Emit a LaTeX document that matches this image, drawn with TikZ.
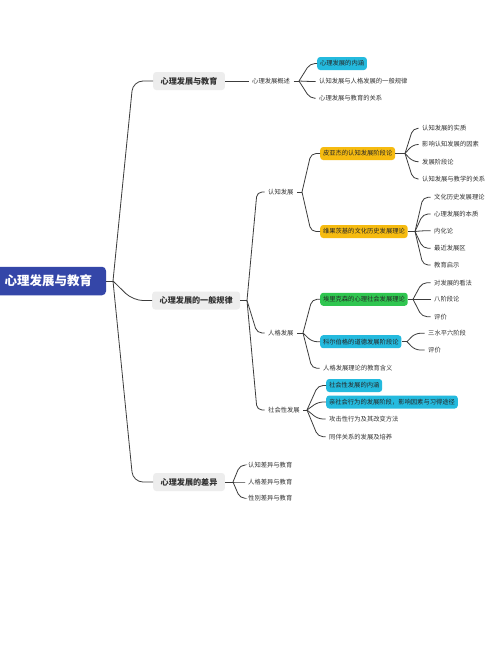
\documentclass[tikz,border=0pt]{standalone}
\usepackage{fontspec}
\setmainfont{Noto Sans CJK SC}
\definecolor{rootblue}{RGB}{52,70,168}
\definecolor{lgray}{RGB}{237,237,237}
\definecolor{cyanb}{RGB}{36,186,222}
\definecolor{orangeb}{RGB}{246,187,16}
\definecolor{greenb}{RGB}{48,198,80}
\definecolor{txt}{RGB}{51,51,51}
\definecolor{linec}{RGB}{60,60,60}
\tikzset{
  conn/.style={draw=linec, line width=0.8pt, rounded corners=5pt},
  rootbox/.style={fill=rootblue, text=white, font=\fontsize{12.5}{14}\selectfont\bfseries,
    minimum width=115pt, minimum height=28.5pt, rounded corners=4pt, inner sep=0pt},
  lone/.style={anchor=west, fill=lgray, text=txt, font=\fontsize{8.1}{9.5}\selectfont\bfseries,
    inner xsep=7.5pt, inner ysep=0pt, minimum height=18pt, rounded corners=3pt},
  leaf/.style={anchor=west, text=txt, font=\fontsize{6.3}{7.5}\selectfont, inner xsep=3.5pt, inner ysep=1pt},
  colbox/.style={anchor=west, text=black!85, font=\fontsize{6.3}{7.5}\selectfont,
    inner xsep=2.8pt, inner ysep=0pt, minimum height=13pt, rounded corners=3pt},
  cbox/.style={colbox, fill=cyanb},
  obox/.style={colbox, fill=orangeb},
  gbox/.style={colbox, fill=greenb}
}
\newcommand\fan[3]{\foreach \c in {#3} {\draw[conn] (#1) -- (#2 |- \c.west) -- (\c.west);}}
\begin{document}
\begin{tikzpicture}[x=1pt,y=-1pt]
\useasboundingbox (0,0) rectangle (500,654);
\fill[white] (0,0) rectangle (500,654);

% root
\node[rootbox] (root) at (48.5,281) {心理发展与教育};
\coordinate (rb) at (113,281);
\coordinate (rc) at (133,0);
\draw[conn] (root.east) -- (rb);

% level 1
\node[lone] (A) at (153,81) {心理发展与教育};
\node[lone] (B) at (152,300.5) {心理发展的一般规律};
\node[lone] (C) at (153,482) {心理发展的差异};
\foreach \c in {A,B,C} {\draw[conn,rounded corners=10pt] (rb) -- (rc |- \c.west) -- (\c.west);}

% A branch
\node[leaf] (a1) at (248.5,81) {心理发展概述};
\draw[conn] (A.east) -- (a1.west);
\coordinate (a1b) at (299,81);
\coordinate (a1c) at (310,0);
\draw[conn] (a1.east) -- (a1b);
\node[cbox] (a11) at (317,63.5) {心理发展的内涵};
\node[leaf] (a12) at (315.5,81.5) {认知发展与人格发展的一般规律};
\node[leaf] (a13) at (315.5,98.3) {心理发展与教育的关系};
\fan{a1b}{a1c}{a11,a12,a13}

% B branch
\coordinate (Bb) at (247,300.5);
\coordinate (Bc) at (257,0);
\draw[conn] (B.east) -- (Bb);
\node[leaf] (b1) at (264.5,192) {认知发展};
\node[leaf] (b2) at (264.5,333) {人格发展};
\node[leaf] (b3) at (264.5,410) {社会性发展};
\fan{Bb}{Bc}{b1,b2,b3}

% b1
\coordinate (b1b) at (302,192);
\coordinate (b1c) at (311,0);
\draw[conn] (b1.east) -- (b1b);
\node[obox] (b11) at (320,153.5) {皮亚杰的认知发展阶段论};
\node[obox] (b12) at (320,231.5) {维果茨基的文化历史发展理论};
\fan{b1b}{b1c}{b11,b12}

\coordinate (b11b) at (405,153.5);
\coordinate (b11c) at (413,0);
\draw[conn] (b11.east) -- (b11b);
\node[leaf] (p1) at (418.5,128.3) {认知发展的实质};
\node[leaf] (p2) at (418.5,144.5) {影响认知发展的因素};
\node[leaf] (p3) at (418.5,161.7) {发展阶段论};
\node[leaf] (p4) at (418.5,179) {认知发展与教学的关系};
\fan{b11b}{b11c}{p1,p2,p3,p4}

\coordinate (b12b) at (415,231.5);
\coordinate (b12c) at (423,0);
\draw[conn] (b12.east) -- (b12b);
\node[leaf] (v1) at (430.5,197.3) {文化历史发展理论};
\node[leaf] (v2) at (430.5,214) {心理发展的本质};
\node[leaf] (v3) at (430.5,230.7) {内化论};
\node[leaf] (v4) at (430.5,248.3) {最近发展区};
\node[leaf] (v5) at (430.5,265) {教育启示};
\fan{b12b}{b12c}{v1,v2,v3,v4,v5}

% b2
\coordinate (b2b) at (303,333);
\coordinate (b2c) at (312,0);
\draw[conn] (b2.east) -- (b2b);
\node[gbox] (b21) at (320,299.3) {埃里克森的心理社会发展理论};
\node[cbox] (b22) at (320,341.7) {科尔伯格的道德发展阶段论};
\node[leaf] (b23) at (319.5,368.3) {人格发展理论的教育含义};
\fan{b2b}{b2c}{b21,b22,b23}

\coordinate (b21b) at (413,299.3);
\coordinate (b21c) at (422,0);
\draw[conn] (b21.east) -- (b21b);
\node[leaf] (e1) at (430.5,282.7) {对发展的看法};
\node[leaf] (e2) at (430.5,299.3) {八阶段论};
\node[leaf] (e3) at (430.5,316.7) {评价};
\fan{b21b}{b21c}{e1,e2,e3}

\coordinate (b22b) at (407,341.7);
\coordinate (b22c) at (415,0);
\draw[conn] (b22.east) -- (b22b);
\node[leaf] (k1) at (424.5,333.3) {三水平六阶段};
\node[leaf] (k2) at (424.5,350) {评价};
\fan{b22b}{b22c}{k1,k2}

% b3
\coordinate (b3b) at (307,410);
\coordinate (b3c) at (318,0);
\draw[conn] (b3.east) -- (b3b);
\node[cbox] (s1) at (326,385.5) {社会性发展的内涵};
\node[cbox] (s2) at (326,402) {亲社会行为的发展阶段，影响因素与习得途径};
\node[leaf] (s3) at (325.5,419) {攻击性行为及其改变方法};
\node[leaf] (s4) at (325.5,436.7) {同伴关系的发展及培养};
\fan{b3b}{b3c}{s1,s2,s3,s4}

% C branch
\coordinate (Cb) at (233,482);
\coordinate (Cc) at (240,0);
\draw[conn] (C.east) -- (Cb);
\node[leaf] (c1) at (244.5,465) {认知差异与教育};
\node[leaf] (c2) at (244.5,482) {人格差异与教育};
\node[leaf] (c3) at (244.5,498.3) {性别差异与教育};
\fan{Cb}{Cc}{c1,c2,c3}
\end{tikzpicture}
\end{document}
